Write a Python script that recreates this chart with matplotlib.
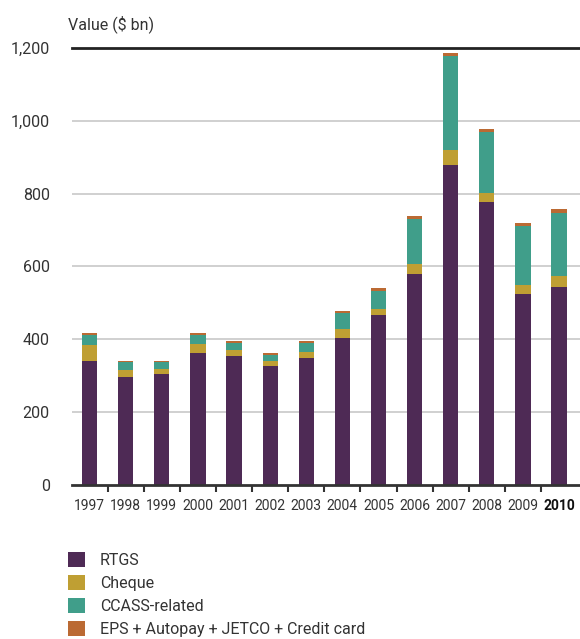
import numpy as np
import matplotlib; matplotlib.use('Agg')
import matplotlib.pyplot as plt

plt.rcParams['font.family'] = ['Roboto', 'DejaVu Sans']

years = ['1997', '1998', '1999', '2000', '2001', '2002', '2003',
         '2004', '2005', '2006', '2007', '2008', '2009', '2010']
rtgs   = [340, 297, 305, 362, 354, 327, 349, 404, 467, 579, 879, 777, 524, 544]
cheque = [44, 19, 14, 25, 17, 14, 17, 24, 16, 28, 41, 25, 25, 30]
ccass  = [28, 23, 20, 25, 19, 16, 24, 44, 50, 123, 259, 168, 163, 173]
eps    = [5, 2, 2, 5, 5, 5, 5, 6, 8, 9, 7, 7, 7, 11]
series = ['RTGS', 'Cheque', 'CCASS-related', 'EPS + Autopay + JETCO + Credit card']
colors = ['#4e2a55', '#bf9f33', '#409e8a', '#bb6a33']
yticks = [0, 200, 400, 600, 800, 1000, 1200]

fig = plt.figure(figsize=(5.8, 6.39), dpi=100)
ax = fig.add_axes([0.124, 0.241, 0.876, 0.684])

x = np.arange(len(years))
bottom = np.zeros(len(years))
handles = []
for vals, c, name in zip([rtgs, cheque, ccass, eps], colors, series):
    h = ax.bar(x, vals, 0.42, bottom=bottom, color=c, label=name, zorder=3)
    bottom += np.array(vals)
    handles.append(h)

ax.set_xlim(-0.49, 13.58)
ax.set_ylim(0, 1200)
ax.set_yticks(yticks)
ax.set_yticklabels([f'{v:,}' for v in yticks], fontsize=11.5, color='#333333')
for v in yticks[1:-1]:
    ax.axhline(v, color='#c8c8c8', lw=1.2, zorder=1)
ax.axhline(1200, color='#222222', lw=2, zorder=4, clip_on=False)
ax.tick_params(axis='y', length=0, pad=16)

ax.set_xticks(x)
ax.set_xticklabels(years, fontsize=10, color='#333333')
ax.get_xticklabels()[-1].set_fontweight('bold')
ax.get_xticklabels()[-1].set_color('#111111')
ax.tick_params(axis='x', which='major', length=0, pad=10)
ax.set_xticks(x[:-1] + 0.5, minor=True)
ax.tick_params(axis='x', which='minor', length=5, width=1.5, color='#333333', direction='out')

for s in ['top', 'right', 'left']:
    ax.spines[s].set_visible(False)
ax.spines['bottom'].set_color('#333333')
ax.spines['bottom'].set_linewidth(2)
ax.spines['bottom'].set_zorder(5)

fig.text(0.117, 0.962, 'Value ($ bn)', fontsize=11.5, color='#333333', va='center', ha='left')

fig.legend(handles=handles, labels=series, loc='upper left', bbox_to_anchor=(0.106, 0.146),
           frameon=False, fontsize=11.5, handlelength=1.1, handleheight=1.1,
           labelspacing=0.42, handletextpad=0.9, borderaxespad=0, labelcolor='#333333')

fig.savefig('out.png', dpi=100)
